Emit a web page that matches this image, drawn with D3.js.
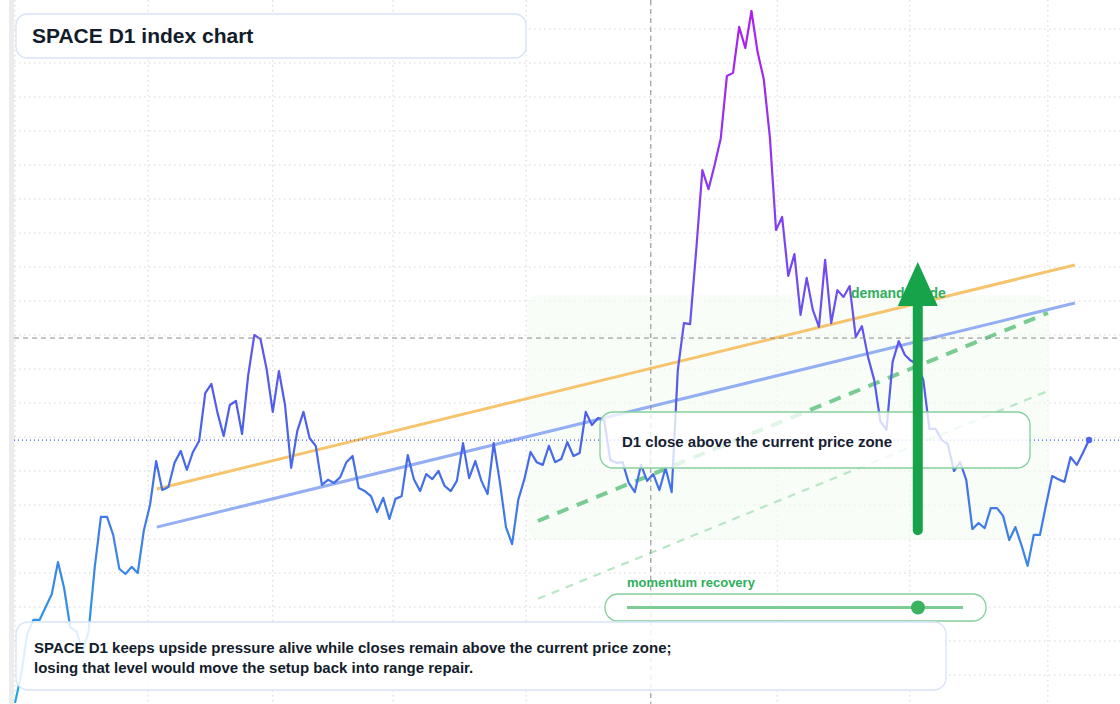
<!DOCTYPE html>
<html><head><meta charset="utf-8">
<script src="https://cdn.jsdelivr.net/npm/d3@7/dist/d3.min.js"></script>
<style>body{margin:0;background:#fff;font-family:"Liberation Sans",Arial,sans-serif}</style>
</head><body><svg id="c" width="1120" height="704"></svg>
<script>
const prices = [1.8,10,22.1,26.2,26.2,30,33.8,43.2,35.6,24.1,22.9,
16.8,22.9,41.8,56.5,56.5,51.2,41.2,39.7,41.8,40,
52.6,60,72.9,64.4,65.3,72.4,75.9,70.3,75.6,78.8,
92.9,95.6,87.1,80.3,89.4,90.6,80.9,98.2,110,108.8,
100,87.4,99.4,89.4,70.9,81.8,87.4,79.7,77.4,65.9,
67.4,66.5,68.2,72.6,74.4,65,64.1,62.6,57.9,62.1,
55.9,61.8,62.6,74.7,67.6,64.1,69.1,67.6,70,65.6,
64.1,67.1,78.2,67.9,72.9,67.1,63.2,78.2,66.8,
53.5,48.5,61.5,67.6,75.6,72.6,71.8,77.4,72.6,73.5,
78.5,74.4,75.3,87.4,83.5,85.6,85,73.2,72.4,72.6,
66.5,63.8,71.8,67.1,69.1,64.4,70.9,63.8,99.7,113.5,
113.2,135,158.5,152.9,160,167.9,186.2,187.1,200.6,194.4,
205.3,193.2,185.3,168.2,140.9,144.7,127.4,133.8,115.9,126.8,
117.4,112.4,132.1,113.5,123.2,121.2,124.4,109.4,112.6,103.5,
96.8,84.7,82.1,102.1,108.2,104.1,102.4,101.5,96.8,82.4,
82.4,79.1,77.9,70,72.6,67.4,52.9,54.7,53.2,59.1,
59.1,56.8,49.7,53.5,48.2,42.1,51.2,51.2,60,68.5,
67.6,66.8,74.1,71.8,75.3,79.1];
const gridDays = [0,21.7,42,61.6,83.3,103.6,124.2,145.8,168.3];
const gridPrices = d3.range(0,210,10);
const trendOrange = [[23.1,64.7],[172.7,130.6]];
const trendBlue = [[23.1,53.5],[172.7,119.4]];
const supportDash = [[85.2,55.3],[168.3,116.5]];
const supportLight = [[85.2,32.4],[168.3,93.5]];
const crossDay = 103.6, crossPrice = 109.1;
const lastPrice = prices[prices.length-1];
const zone = {d0:83.4,d1:168.6,p0:49.7,p1:121.8};
const arrowPts = {day:147.1,from:52.6,to:131.5};
const titleText = "SPACE D1 index chart";
const calloutText = "D1 close above the current price zone";
const demandText = "demand guide";
const momentumText = "momentum recovery";
const footerLines = ["SPACE D1 keeps upside pressure alive while closes remain above the current price zone;","losing that level would move the setup back into range repair."];

const svg = d3.select("#c");
const x = d3.scaleLinear().domain([0,prices.length-1]).range([15,1089]);
const y = d3.scaleLinear().domain([0,200]).range([709,29]);

svg.append("rect").attr("x",9).attr("y",0).attr("width",5).attr("height",704).attr("fill","#ececec");
const g = svg.append("g");
g.selectAll(".gh").data(gridPrices).enter().append("line").attr("x1",14).attr("x2",1120)
 .attr("y1",d=>y(d)).attr("y2",d=>y(d)).attr("stroke","#d4d4d4").attr("stroke-dasharray","1.5,3.5");
g.selectAll(".gv").data(gridDays).enter().append("line").attr("x1",d=>x(d)).attr("x2",d=>x(d))
 .attr("y1",0).attr("y2",704).attr("stroke","#d4d4d4").attr("stroke-dasharray","1.5,3.5");

svg.append("rect").attr("x",x(zone.d0)).attr("y",y(zone.p1)).attr("width",x(zone.d1)-x(zone.d0))
 .attr("height",y(zone.p0)-y(zone.p1)).attr("rx",14).attr("fill","#f3fbf4").attr("opacity",0.6);

const ln = d3.line().x(d=>x(d[0])).y(d=>y(d[1]));
svg.append("path").attr("d",ln(supportLight)).attr("stroke","#b8e6c6").attr("stroke-width",2.2).attr("stroke-dasharray","8,7").attr("fill","none");
svg.append("path").attr("d",ln(supportDash)).attr("stroke","#78cc92").attr("stroke-width",4).attr("stroke-dasharray","12,9").attr("fill","none");
svg.append("path").attr("d",ln(trendOrange)).attr("stroke","#f6c46c").attr("stroke-width",3).attr("fill","none");
svg.append("path").attr("d",ln(trendBlue)).attr("stroke","#93aef2").attr("stroke-width",3).attr("fill","none");

svg.append("line").attr("x1",14).attr("x2",1120).attr("y1",y(lastPrice)).attr("y2",y(lastPrice))
 .attr("stroke","#3b5bef").attr("stroke-width",1.2).attr("stroke-dasharray","1,3");

const defs = svg.append("defs");
const gr = defs.append("linearGradient").attr("id","pg").attr("gradientUnits","userSpaceOnUse")
 .attr("x1",0).attr("x2",0).attr("y1",704).attr("y2",10);
[[0,"#1fa5ee"],[0.25,"#3f7ee8"],[0.4,"#4b60ea"],[0.55,"#6752ee"],[0.75,"#8a3af0"],[1,"#b01ff0"]]
 .forEach(s=>gr.append("stop").attr("offset",s[0]).attr("stop-color",s[1]));
svg.append("path").datum(prices).attr("d",d3.line().x((d,i)=>x(i)).y(d=>y(d)))
 .attr("fill","none").attr("stroke","url(#pg)").attr("stroke-width",2.2).attr("stroke-linejoin","round");
svg.append("circle").attr("cx",x(prices.length-1)).attr("cy",y(lastPrice)).attr("r",3.2).attr("fill","#4a66ea");

svg.append("line").attr("x1",x(crossDay)).attr("x2",x(crossDay)).attr("y1",0).attr("y2",704)
 .attr("stroke","#8a8a8a").attr("stroke-dasharray","5,4");
svg.append("line").attr("x1",14).attr("x2",1120).attr("y1",y(crossPrice)).attr("y2",y(crossPrice))
 .attr("stroke","#8a8a8a").attr("stroke-dasharray","5,4");

svg.append("rect").attr("x",600).attr("y",412).attr("width",430).attr("height",56).attr("rx",13)
 .attr("fill","#fff").attr("fill-opacity",0.78).attr("stroke","#86d09e").attr("stroke-width",1.3);
svg.append("text").attr("x",622).attr("y",447).text(calloutText).attr("font-size",15).attr("font-weight","bold").attr("fill","#162033");

svg.append("text").attr("x",851).attr("y",298).text(demandText).attr("font-size",14).attr("font-weight","bold").attr("fill","#2fae5c");
const ax = x(arrowPts.day);
svg.append("line").attr("x1",ax).attr("x2",ax).attr("y1",y(arrowPts.from)).attr("y2",y(arrowPts.to)+40)
 .attr("stroke","#17a34a").attr("stroke-width",10).attr("stroke-linecap","round");
svg.append("path").attr("d",`M${ax-20},${y(arrowPts.to)+44}L${ax+20},${y(arrowPts.to)+44}L${ax},${y(arrowPts.to)}Z`).attr("fill","#17a34a");

svg.append("text").attr("x",627).attr("y",587).text(momentumText).attr("font-size",13).attr("font-weight","bold").attr("fill","#2fae5c");
svg.append("rect").attr("x",605).attr("y",594).attr("width",381).attr("height",27).attr("rx",13)
 .attr("fill","#fff").attr("fill-opacity",0.85).attr("stroke","#86d09e").attr("stroke-width",1.3);
svg.append("line").attr("x1",627).attr("x2",963).attr("y1",607.5).attr("y2",607.5).attr("stroke","#7dcc96").attr("stroke-width",3);
svg.append("circle").attr("cx",918).attr("cy",607.5).attr("r",7).attr("fill","#3bb462");

svg.append("rect").attr("x",16).attr("y",14).attr("width",510).attr("height",44).attr("rx",11)
 .attr("fill","#fff").attr("fill-opacity",0.9).attr("stroke","#d6e4f7").attr("stroke-width",1.3);
svg.append("text").attr("x",32).attr("y",43).text(titleText).attr("font-size",21).attr("font-weight","bold").attr("fill","#131c2b");

svg.append("rect").attr("x",16).attr("y",622).attr("width",930).attr("height",68).attr("rx",12)
 .attr("fill","#fff").attr("fill-opacity",0.85).attr("stroke","#d6e4f7").attr("stroke-width",1.3);
footerLines.forEach((t,i)=>svg.append("text").attr("x",34).attr("y",653+i*20).text(t)
 .attr("font-size",15).attr("font-weight","bold").attr("fill","#131c2b"));
</script></body></html>
